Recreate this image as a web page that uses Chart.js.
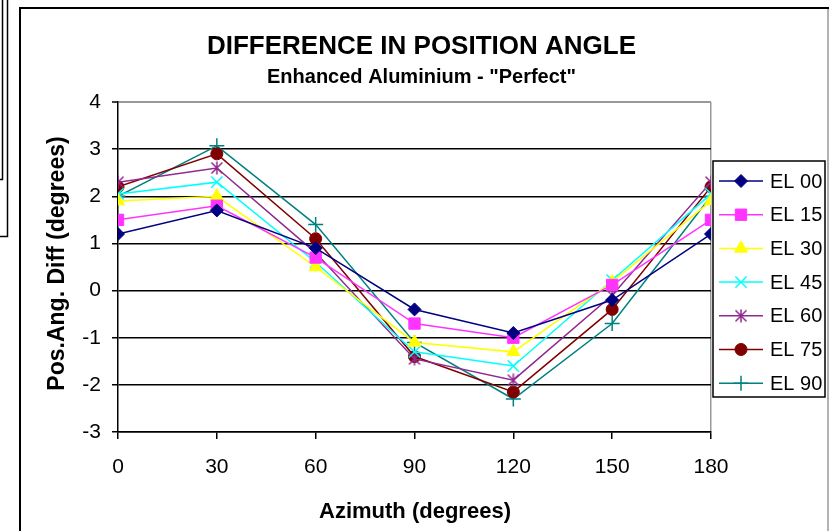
<!DOCTYPE html>
<html>
<head>
<meta charset="utf-8">
<script src="https://cdn.jsdelivr.net/npm/chart.js@4/dist/chart.umd.min.js"></script>
<style>
html,body{margin:0;padding:0;background:#fff;}
#c{display:block;}
</style>
</head>
<body>
<canvas id="c" width="829" height="531"></canvas>
<script>
// ---- data ----
const azimuth = [0, 30, 60, 90, 120, 150, 180];
const seriesNames = ["EL 00", "EL 15", "EL 30", "EL 45", "EL 60", "EL 75", "EL 90"];
const el00 = [1.2, 1.7, 0.9, -0.4, -0.9, -0.2, 1.2];
const el15 = [1.5, 1.8, 0.7, -0.7, -1.0, 0.12, 1.5];
const el30 = [1.9, 2.0, 0.5, -1.1, -1.3, 0.18, 1.9];
const el45 = [2.05, 2.3, 0.6, -1.3, -1.6, 0.22, 2.05];
const el60 = [2.3, 2.6, 0.8, -1.45, -1.9, -0.1, 2.3];
const el75 = [2.2, 2.9, 1.1, -1.4, -2.15, -0.4, 2.2];
const el90 = [2.0, 3.07, 1.4, -1.1, -2.3, -0.7, 2.0];
const xTicks = [0, 30, 60, 90, 120, 150, 180];
const yTicks = [-3, -2, -1, 0, 1, 2, 3, 4];

// custom asterisk marker (Excel "star")
function makeAsterisk(color) {
  const s = 14;
  const cv = document.createElement('canvas');
  cv.width = s; cv.height = s;
  const g = cv.getContext('2d');
  g.strokeStyle = color; g.lineWidth = 1.5;
  g.beginPath();
  g.moveTo(s/2, 0.5); g.lineTo(s/2, s-0.5);
  g.moveTo(1.5, 1.5); g.lineTo(s-1.5, s-1.5);
  g.moveTo(s-1.5, 1.5); g.lineTo(1.5, s-1.5);
  g.stroke();
  return cv;
}

const colors = ['#000080', '#FF33FF', '#FFFF00', '#00FFFF', '#902890', '#800000', '#008080'];
const styles = ['rectRot', 'rect', 'triangle', 'crossRot', makeAsterisk('#902890'), 'circle', 'cross'];
const radii = [6.5, 8, 7.5, 8, 7, 6, 7.5];
const values = [el00, el15, el30, el45, el60, el75, el90];

const datasets = seriesNames.map((n, i) => ({
  label: n,
  data: azimuth.map((a, j) => ({x: a, y: values[i][j]})),
  borderColor: colors[i],
  backgroundColor: colors[i],
  pointBackgroundColor: colors[i],
  pointBorderColor: colors[i],
  pointStyle: styles[i],
  pointRadius: radii[i],
  pointHoverRadius: radii[i],
  pointBorderWidth: (i === 3 || i === 6) ? 1.5 : 1,
  borderWidth: 1.5,
  tension: 0,
  fill: false
}));

const FONT = "'Liberation Sans', Arial, sans-serif";

const decor = {
  id: 'decor',
  beforeDraw(chart) {
    const ctx = chart.ctx;
    ctx.save();
    ctx.fillStyle = '#fff';
    ctx.fillRect(0, 0, chart.width, chart.height);
    // left fragments
    ctx.strokeStyle = '#000';
    ctx.lineWidth = 1.5;
    ctx.beginPath();
    ctx.moveTo(2.5, 0); ctx.lineTo(2.5, 179.5); ctx.lineTo(0, 179.5);
    ctx.moveTo(7.5, 0); ctx.lineTo(7.5, 236.5); ctx.lineTo(0, 236.5);
    ctx.stroke();
    // chart frame
    ctx.lineWidth = 2;
    ctx.beginPath();
    ctx.moveTo(20, 531); ctx.lineTo(20, 8); ctx.lineTo(829, 8);
    ctx.stroke();
    ctx.strokeStyle = '#999';
    ctx.lineWidth = 1.5;
    ctx.beginPath();
    ctx.moveTo(828, 9); ctx.lineTo(828, 531);
    ctx.stroke();
    ctx.restore();
  },
  afterDraw(chart) {
    const ctx = chart.ctx;
    ctx.save();
    ctx.fillStyle = '#000';
    // titles
    ctx.textAlign = 'center';
    ctx.textBaseline = 'alphabetic';
    ctx.font = "bold 26px " + FONT;
    ctx.fillText('DIFFERENCE IN POSITION ANGLE', 421.5, 53.5);
    ctx.font = "bold 20px " + FONT;
    ctx.fillText('Enhanced Aluminium - "Perfect"', 421.5, 83);
    // axis titles
    ctx.font = "bold 22px " + FONT;
    ctx.fillText('Azimuth (degrees)', 415, 518);
    ctx.save();
    ctx.translate(63.5, 263.5);
    ctx.rotate(-Math.PI / 2);
    ctx.font = "bold 23px " + FONT;
    ctx.fillText('Pos.Ang. Diff (degrees)', 0, 0);
    ctx.restore();
    // legend
    const lx = 713, ly = 161, lw = 112, lh = 236;
    ctx.fillStyle = '#fff';
    ctx.fillRect(lx, ly, lw, lh);
    ctx.strokeStyle = '#000';
    ctx.lineWidth = 1.5;
    ctx.strokeRect(lx, ly, lw, lh);
    chart.data.datasets.forEach((ds, i) => {
      const y = 181 + i * 33.7;
      ctx.strokeStyle = ds.borderColor;
      ctx.lineWidth = 1.5;
      ctx.beginPath();
      ctx.moveTo(719, y); ctx.lineTo(763, y);
      ctx.stroke();
      ctx.fillStyle = ds.pointBackgroundColor;
      ctx.strokeStyle = ds.pointBorderColor;
      ctx.lineWidth = ds.pointBorderWidth;
      Chart.helpers.drawPoint(ctx, {pointStyle: ds.pointStyle, rotation: 0, radius: ds.pointRadius, borderWidth: ds.pointBorderWidth}, 741, y);
      ctx.fillStyle = '#000';
      ctx.font = "20px " + FONT;
      ctx.textAlign = 'left';
      ctx.textBaseline = 'middle';
      ctx.fillText(ds.label, 770, y + 1);
    });
    ctx.restore();
  }
};

new Chart(document.getElementById('c'), {
  type: 'line',
  data: { datasets },
  plugins: [decor],
  options: {
    responsive: false,
    animation: false,
    devicePixelRatio: 1,
    layout: { padding: { left: 20, right: 118, top: 102, bottom: 0 } },
    plugins: {
      legend: { display: false },
      title: { display: false },
      tooltip: { enabled: false }
    },
    scales: {
      x: {
        type: 'linear',
        min: 0, max: 180,
        afterBuildTicks: (s) => { s.ticks = xTicks.map(v => ({value: v})); },
        afterFit: (s) => { s.height = 99; },
        ticks: { color: '#000', font: { family: FONT, size: 21 }, padding: 16, maxRotation: 0 },
        grid: {
          drawOnChartArea: true,
          color: (c) => c.tick && c.tick.value === 180 ? '#999' : 'rgba(0,0,0,0)',
          lineWidth: 1.5,
          tickColor: '#000',
          tickLength: 7,
          tickWidth: 1.5
        },
        border: { display: true, color: '#000', width: 1.5 }
      },
      y: {
        min: -3, max: 4,
        afterBuildTicks: (s) => { s.ticks = yTicks.map(v => ({value: v})); },
        afterFit: (s) => { s.width = 98; },
        ticks: { color: '#000', font: { family: FONT, size: 21 }, padding: 11 },
        grid: {
          color: (c) => c.tick && c.tick.value === 4 ? '#999' : '#000',
          lineWidth: (c) => c.tick && c.tick.value === 4 ? 2 : 1.5,
          tickColor: '#000',
          tickLength: 6,
          tickWidth: 1.5
        },
        border: { display: true, color: '#000', width: 1.5 }
      }
    }
  }
});
</script>
</body>
</html>
